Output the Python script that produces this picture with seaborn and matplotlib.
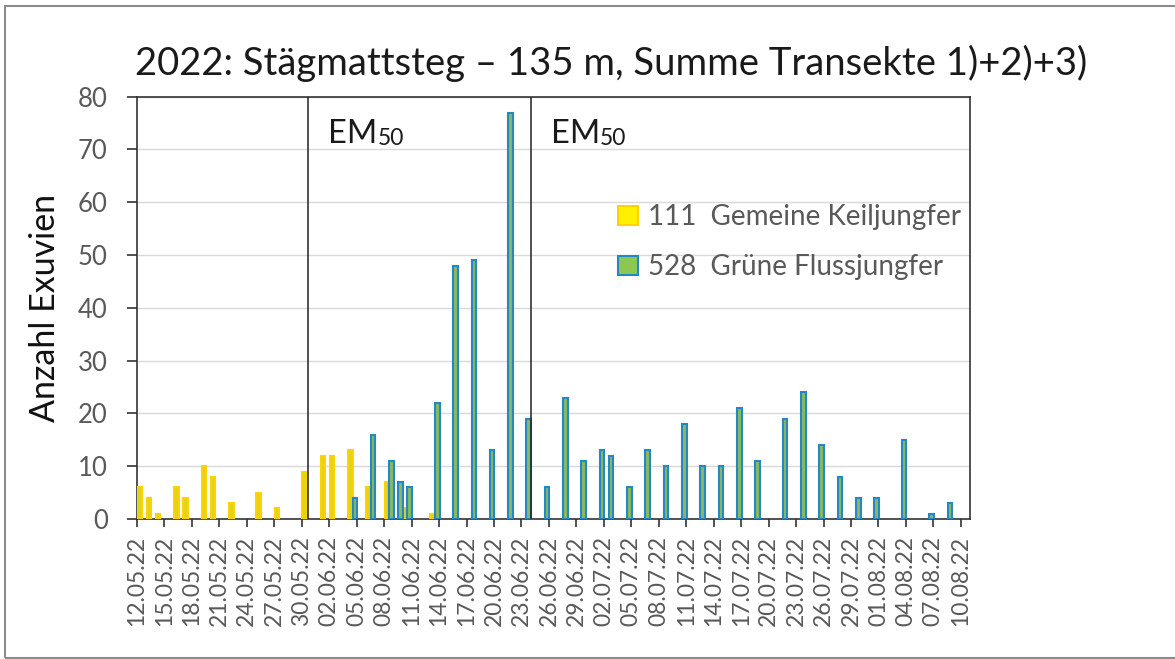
import matplotlib
matplotlib.use('Agg')
import matplotlib.pyplot as plt
from matplotlib.patches import Patch, Rectangle
import pandas as pd
import seaborn as sns

# Zählungen Exuvien 2022 (Tag.Monat)
keil_dates = ['12.05', '13.05', '14.05', '16.05', '17.05', '19.05', '20.05', '22.05',
              '25.05', '27.05', '30.05', '01.06', '02.06', '04.06', '06.06', '08.06',
              '10.06', '13.06']
keil_counts = [6, 4, 1, 6, 4, 10, 8, 3, 5, 2, 9, 12, 12, 13, 6, 7, 2, 1]

fluss_dates = ['04.06', '06.06', '08.06', '09.06', '10.06', '13.06', '15.06', '17.06',
               '19.06', '21.06', '23.06', '25.06', '27.06', '29.06', '01.07', '02.07',
               '04.07', '06.07', '08.07', '10.07', '12.07', '14.07', '16.07', '18.07',
               '21.07', '23.07', '25.07', '27.07', '29.07', '31.07', '03.08', '06.08',
               '08.08']
fluss_counts = [4, 16, 11, 7, 6, 22, 48, 49, 13, 77, 19, 6, 23, 11, 13, 12,
                6, 13, 10, 18, 10, 10, 21, 11, 19, 24, 14, 8, 4, 4, 15, 1, 3]

species = ['Gemeine Keiljungfer', 'Grüne Flussjungfer']
em50_days = [18.7, 43.0]   # EM50 in Tagen nach dem 12.05.

fill_colors = ['#FFF000', '#8CC850']
edge_colors = ['#FFD200', '#2388C4']

start = pd.Timestamp('2022-05-12')


def to_day(d):
    return (pd.to_datetime(d + '.2022', format='%d.%m.%Y') - start).days


df = pd.concat([
    pd.DataFrame({'tag': [to_day(d) for d in keil_dates], 'anzahl': keil_counts, 'art': species[0]}),
    pd.DataFrame({'tag': [to_day(d) for d in fluss_dates], 'anzahl': fluss_counts, 'art': species[1]}),
])
df['x'] = df['tag'] + 0.55

sns.set_style('white')
plt.rcParams['font.family'] = ['Lato', 'DejaVu Sans']

fig = plt.figure(figsize=(11.75, 6.59), dpi=100)
ax = fig.add_axes([0.1166, 0.2124, 0.7089, 0.6409])

sns.barplot(data=df, x='x', y='anzahl', hue='art', hue_order=species,
            palette=fill_colors, native_scale=True, width=1.0, dodge=True,
            errorbar=None, legend=False, ax=ax, zorder=3)
for cont, ec in zip(ax.containers, edge_colors):
    for bar in cont:
        bar.set_edgecolor(ec)
        bar.set_linewidth(1.5)

for d in em50_days:
    ax.axvline(d, color='#222222', lw=1.1, zorder=4)
    t = ax.text(d + 2.2, 71.3, 'EM', fontsize=23.5, color='#1a1a1a', va='baseline')
    ax.annotate('50', xy=(1, 0), xycoords=t, va='bottom', ha='left',
                fontsize=16.5, color='#1a1a1a')

ticks = list(range(0, 91, 3))
ax.set_xticks(ticks)
ax.set_xticklabels([(start + pd.Timedelta(days=t)).strftime('%d.%m.%y') for t in ticks],
                   rotation=90)
ax.set_xlim(0, 91)
ax.set_ylim(0, 80)
ax.set_yticks(range(0, 81, 10))
ax.yaxis.grid(True, color='#d9d9d9', lw=1, zorder=0)
ax.set_axisbelow(True)

ax.tick_params(axis='y', labelsize=18.5, labelcolor='#595959', length=7, width=1.2,
               color='#333333', pad=14, direction='out', left=True)
ax.tick_params(axis='x', labelsize=16.5, labelcolor='#595959', length=6, width=1.2,
               color='#333333', pad=6, direction='out', bottom=True)
for s in ax.spines.values():
    s.set_color('#333333')
    s.set_linewidth(1.2)

ax.set_xlabel('')
ax.set_ylabel('Anzahl Exuvien', fontsize=24.5, color='#111111', labelpad=12)

handles = [Patch(facecolor=fc, edgecolor=ec, lw=1.5) for fc, ec in zip(fill_colors, edge_colors)]
labels = [f'{sum(keil_counts)}  {species[0]}', f'{sum(fluss_counts)}  {species[1]}']
ax.legend(handles, labels, loc='upper left', bbox_to_anchor=(0.578, 0.745), frameon=False,
          fontsize=20, labelcolor='#595959', handlelength=0.7, handleheight=0.7,
          handletextpad=0.35, labelspacing=0.85, borderpad=0, borderaxespad=0)

fig.text(611 / 1175, 1 - 75 / 659, '2022: Stägmattsteg – 135 m, Summe Transekte 1)+2)+3)',
         ha='center', va='baseline', fontsize=27.5, color='#1a1a1a')

fig.add_artist(Rectangle((0.0045, 0.0015), 1.2, 0.9894, transform=fig.transFigure,
                         fill=False, ec='#8c8c8c', lw=1.5))

fig.savefig('out.png', dpi=100)
